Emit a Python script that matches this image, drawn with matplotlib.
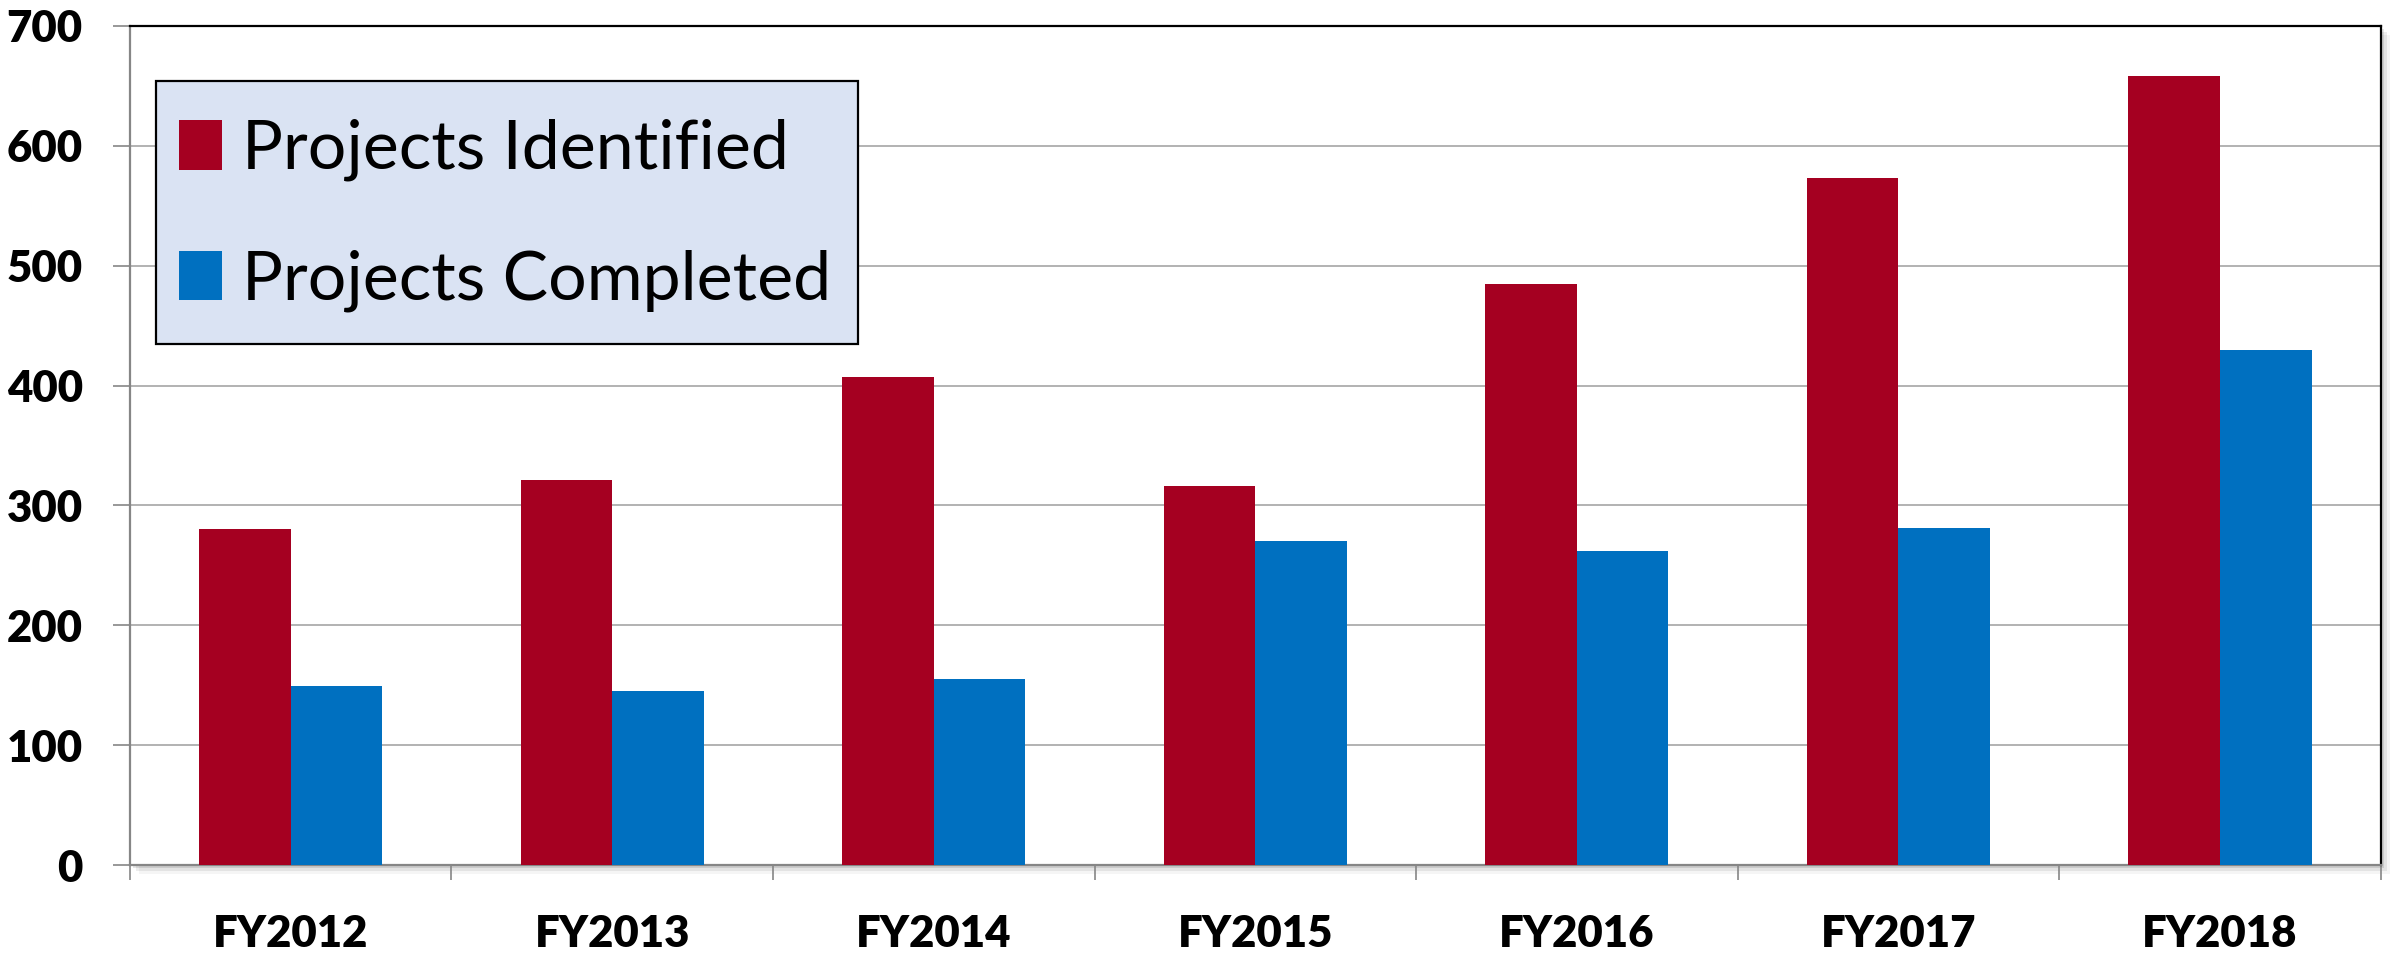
import matplotlib.pyplot as plt
import matplotlib.patches as mpatches
import numpy as np

# Datos
years = ['FY2012', 'FY2013', 'FY2014', 'FY2015', 'FY2016', 'FY2017', 'FY2018']
identified = [280, 321, 407, 316, 485, 573, 658]
completed = [149, 145, 155, 270, 262, 281, 430]

RED = '#A50021'
BLUE = '#0070C0'

fig = plt.figure(figsize=(23.97, 9.55), dpi=100)
ax = fig.add_axes([0.0542, 0.0942, 0.939, 0.8786])

# sombra del área de trazado
for i, a in enumerate([0.10, 0.07, 0.04]):
    off = (i + 1) * 3
    sh = mpatches.Rectangle((0.0542 + off / 2397, 0.0942 - off / 955), 0.939, 0.8786,
                            transform=fig.transFigure, facecolor='black', alpha=a,
                            edgecolor='none', zorder=-5)
    fig.patches.append(sh)

x = np.arange(len(years))
w = 0.285
ax.bar(x - w / 2, identified, w, color=RED, label='Projects Identified', zorder=3)
ax.bar(x + w / 2, completed, w, color=BLUE, label='Projects Completed', zorder=3)

ax.set_xlim(-0.5, len(years) - 0.5)
ax.set_ylim(0, 700)
ax.set_yticks(range(0, 701, 100))
ax.yaxis.grid(True, color='#A6A6A6', linewidth=1.2, zorder=0)
ax.set_axisbelow(True)

ax.set_xticks(x)
ax.set_xticklabels(years)
ax.set_xticks(np.arange(-0.5, len(years), 1), minor=True)
ax.tick_params(axis='x', which='major', length=0, pad=35)
ax.tick_params(axis='x', which='minor', length=11, width=1.2, color='#868686')
ax.tick_params(axis='y', length=12, width=1.2, color='#868686', pad=22)

for lab in ax.get_xticklabels() + ax.get_yticklabels():
    lab.set_fontfamily('Lato')
    lab.set_fontweight('heavy')
    lab.set_fontsize(31.5)

for s in ['top', 'right']:
    ax.spines[s].set_color('black')
    ax.spines[s].set_linewidth(1.6)
for s in ['left', 'bottom']:
    ax.spines[s].set_color('#868686')
    ax.spines[s].set_linewidth(1.6)

# caja de la leyenda dibujada aparte
caja = mpatches.Rectangle((0.0116, 0.621), 0.312, 0.3134, transform=ax.transAxes,
                          facecolor='#DAE3F3', edgecolor='black', linewidth=1.6, zorder=4)
ax.add_patch(caja)

leg = ax.legend(loc='upper left', bbox_to_anchor=(0.0097, 0.922), frameon=False,
                prop={'family': 'Lato', 'size': 49},
                handlelength=0.63, handleheight=0.75, handletextpad=0.29,
                labelspacing=1.0, borderpad=0.4, borderaxespad=0)
leg.set_zorder(5)

fig.savefig('out.png', dpi=100)
